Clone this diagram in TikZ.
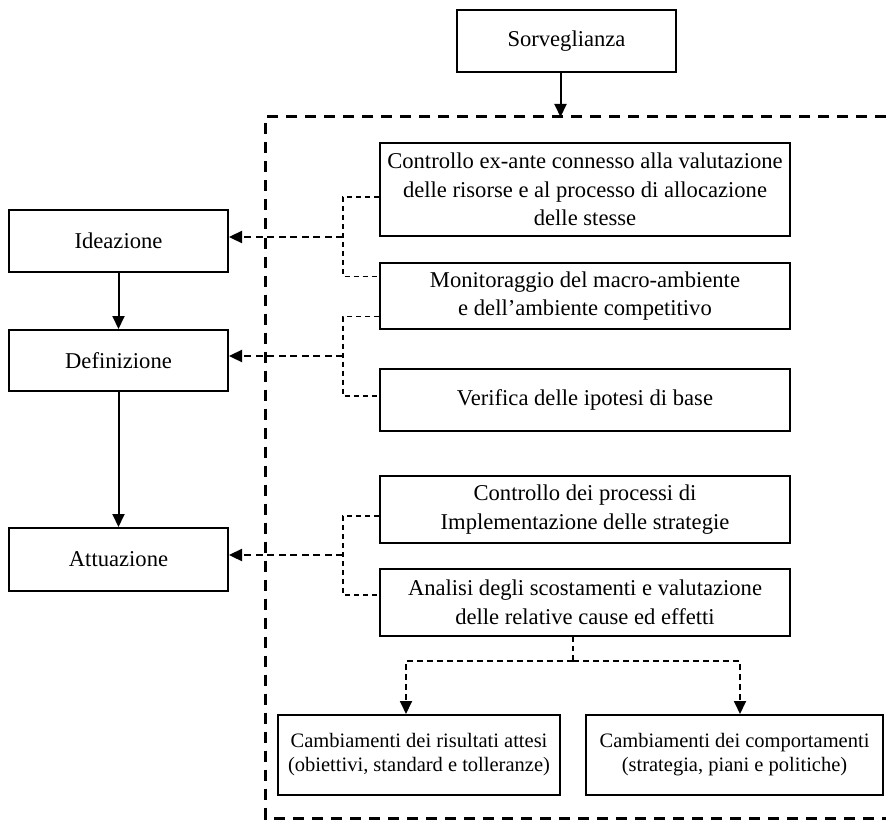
\documentclass[tikz,border=0pt]{standalone}
\usepackage{fontspec}
\setmainfont{Liberation Serif}
\usetikzlibrary{arrows.meta}

\begin{document}
\begin{tikzpicture}[x=1pt,y=-1pt,
  box/.style={draw,line width=2pt,align=center,inner sep=0pt,font=\fontsize{22.6pt}{28.5pt}\selectfont},
  leftbox/.style={box,minimum width=219pt,minimum height=62pt},
  rightbox/.style={box,minimum width=410pt},
  lowbox/.style={box,minimum height=80pt,font=\fontsize{20.5pt}{24pt}\selectfont},
  tip/.style={-{Triangle[length=13pt,width=12pt]}},
  flow/.style={tip,line width=2pt},
  feed/.style={tip,line width=2.3pt,dash pattern=on 7pt off 4.5pt},
  link/.style={line width=1.4pt,dash pattern=on 5pt off 4pt},
  linkdown/.style={tip,line width=1.8pt,dash pattern=on 6pt off 4pt},
  frame/.style={line width=3pt,dash pattern=on 11pt off 8pt}]
\useasboundingbox (0,0) rectangle (886,821);

\node[leftbox] (sorv) at (566.5,41) {Sorveglianza};
\node[leftbox] (idea) at (118.5,241) {Ideazione};
\node[leftbox,minimum height=61pt] (defi) at (118.5,360.5) {Definizione};
\node[leftbox,minimum height=63pt] (attu) at (118.5,559.5) {Attuazione};

\node[rightbox,minimum height=93pt] (exante) at (585,189.5) {Controllo ex-ante connesso alla valutazione\\delle risorse e al processo di allocazione\\delle stesse};
\node[rightbox,minimum height=66pt] (monit) at (585,296) {Monitoraggio del macro-ambiente\\e dell’ambiente competitivo};
\node[rightbox,minimum height=62pt] (verif) at (585,400) {Verifica delle ipotesi di base};
\node[rightbox,minimum height=67pt] (impl) at (585,509.5) {Controllo dei processi di\\Implementazione delle strategie};
\node[rightbox,minimum height=67pt] (scost) at (585,602.5) {Analisi degli scostamenti e valutazione\\delle relative cause ed effetti};

\node[lowbox,minimum width=282pt] (risult) at (419,755) {Cambiamenti dei risultati attesi\\(obiettivi, standard e tolleranze)};
\node[lowbox,minimum width=297pt] (compor) at (734.5,755) {Cambiamenti dei comportamenti\\(strategia, piani e politiche)};

\coordinate (ftl) at (265.5,117);
\coordinate (fbl) at (265.5,818);
\draw[frame] (886,117) -- (ftl) -- (fbl) -- (886,818);

\draw[flow] ([xshift=-6pt]sorv.south) -- ([xshift=-6pt]sorv.south |- ftl);
\draw[flow] (idea.south) -- (defi.north);
\draw[flow] (defi.south) -- (attu.north);

\coordinate (j1) at (343,237);
\coordinate (j2) at (343,356);
\coordinate (j3) at (343,555);

\draw[link] ([yshift=-7.5pt]exante.west) -| (j1) |- ([yshift=19.5pt]monit.west);
\draw[link] ([yshift=-20.5pt]monit.west) -| (j2) |- ([yshift=4pt]verif.west);
\draw[link] ([yshift=-6.5pt]impl.west) -| (j3) |- ([yshift=7.5pt]scost.west);

\draw[feed] (j1) -- (j1 -| idea.east);
\draw[feed] (j2) -- (j2 -| defi.east);
\draw[feed] (j3) -- (j3 -| attu.east);

\coordinate (split) at (573,661);
\draw[link] (split |- scost.south) -- (split);
\draw[linkdown] (split) -| ([xshift=-13pt]risult.north);
\draw[linkdown] (split) -| ([xshift=5.5pt]compor.north);
\end{tikzpicture}
\end{document}
